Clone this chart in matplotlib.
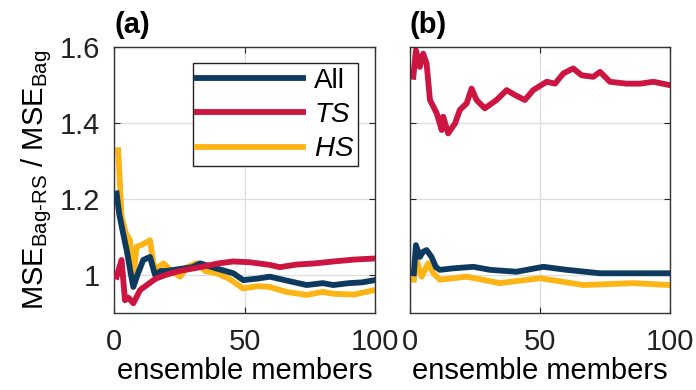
import matplotlib
matplotlib.use("Agg")
import matplotlib.pyplot as plt

plt.rcParams['font.family'] = ['Liberation Sans', 'DejaVu Sans']
plt.rcParams['mathtext.fontset'] = 'custom'
plt.rcParams['mathtext.rm'] = 'Liberation Sans'
plt.rcParams['mathtext.it'] = 'Liberation Sans:italic'

# panel (a)
a_all_x = [1, 2, 3.5, 5, 6.5, 7.4, 9, 11.2, 13.8, 15.7, 18, 20, 25, 30, 33, 40, 45.7, 49.5, 55, 59.7, 66, 73.8, 80, 84, 90, 95, 100]
a_all_y = [1.214, 1.16, 1.109, 1.06, 1.0, 0.968, 1.0, 1.039, 1.047, 1.0, 1.01, 1.01, 1.015, 1.02, 1.03, 1.015, 1.004, 0.986, 0.99, 0.995, 0.985, 0.973, 0.978, 0.973, 0.978, 0.98, 0.986]
a_ts_x = [1, 2.9, 4.2, 5.5, 7.4, 10, 13, 16, 20, 25, 33, 40, 45.7, 52, 59.7, 63.5, 70, 77, 84, 92, 100]
a_ts_y = [0.995, 1.039, 0.933, 0.94, 0.925, 0.96, 0.975, 0.99, 1.0, 1.01, 1.02, 1.03, 1.035, 1.033, 1.026, 1.02, 1.027, 1.03, 1.035, 1.04, 1.043]
a_hs_x = [1.6, 2.9, 4.5, 6.1, 7.4, 8.7, 11, 13.8, 15.7, 17, 19, 22, 25.3, 28, 31.7, 35, 39.3, 44, 49.5, 55, 59.7, 66, 73.8, 80, 84, 92, 100]
a_hs_y = [1.328, 1.153, 1.11, 1.091, 0.995, 1.074, 1.08, 1.091, 1.004, 1.02, 1.03, 1.01, 0.995, 1.02, 1.03, 1.01, 1.004, 0.99, 0.964, 0.97, 0.968, 0.955, 0.947, 0.955, 0.95, 0.948, 0.96]

# panel (b)
b_all_x = [1.5, 2.3, 3.8, 5, 6.4, 8.3, 10, 11.5, 16.7, 24.4, 30.8, 41, 51.3, 60.3, 73, 85.9, 100]
b_all_y = [1.004, 1.078, 1.047, 1.06, 1.065, 1.047, 1.02, 1.013, 1.017, 1.021, 1.013, 1.008, 1.021, 1.013, 1.004, 1.004, 1.004]
b_ts_x = [1.3, 2.3, 3.8, 5.1, 6.4, 7.7, 10.3, 12.2, 12.8, 14.7, 17.3, 19.2, 21.8, 23.7, 25.6, 28.8, 33.3, 37.2, 40.4, 44.2, 47.4,
          52.6, 55.8, 59, 62.8, 66, 70.5, 73.1, 76.9, 83.3, 88.5, 93.6, 100]
b_ts_y = [1.521, 1.591, 1.547, 1.582, 1.556, 1.46, 1.425, 1.381, 1.416, 1.372, 1.398, 1.434, 1.451, 1.49, 1.46, 1.438, 1.46, 1.486, 1.473, 1.46, 1.486,
          1.508, 1.503, 1.53, 1.543, 1.525, 1.521, 1.534, 1.508, 1.503, 1.503, 1.508, 1.499]
b_hs_x = [1.5, 2.5, 4.5, 7, 9, 11.5, 21.8, 34.6, 50, 66.7, 85.9, 100]
b_hs_y = [0.987, 1.039, 0.995, 1.03, 1.004, 0.987, 0.995, 0.978, 0.991, 0.973, 0.978, 0.973]

c_all = '#0d3a5e'
c_ts = '#cc1540'
c_hs = '#fdb515'
fs = 21
lw = 4.2

fig = plt.figure(figsize=(6.96, 3.9), dpi=100)
ax1 = fig.add_axes([0.1638, 0.198, 0.375, 0.682])
ax2 = fig.add_axes([0.589, 0.198, 0.3736, 0.682])

for ax in (ax1, ax2):
    ax.set_xlim(0, 100)
    ax.set_ylim(0.9, 1.6)
    ax.set_xticks([0, 50, 100])
    ax.set_yticks([1, 1.2, 1.4, 1.6])
    ax.grid(True, color='#dcdcdc', linewidth=0.9)
    ax.set_axisbelow(True)
    ax.tick_params(direction='in', top=True, right=True, length=4, labelsize=fs, colors='#222222')
    ax.tick_params(axis='x', pad=11)
    ax.tick_params(axis='y', pad=10)
    for s in ax.spines.values():
        s.set_color('#333333')
        s.set_linewidth(1.0)
    ax.set_xlabel('ensemble members', fontsize=fs, labelpad=1)

ax1.set_yticklabels(['1', '1.2', '1.4', '1.6'])
ax2.set_yticklabels([])

l1, = ax1.plot(a_all_x, a_all_y, color=c_all, lw=lw, zorder=3)
l3, = ax1.plot(a_hs_x, a_hs_y, color=c_hs, lw=lw, zorder=2)
l2, = ax1.plot(a_ts_x, a_ts_y, color=c_ts, lw=lw, zorder=4)
ax2.plot(b_ts_x, b_ts_y, color=c_ts, lw=lw)
ax2.plot(b_hs_x, b_hs_y, color=c_hs, lw=lw)
ax2.plot(b_all_x, b_all_y, color=c_all, lw=lw)

leg = ax1.legend([l1, l2, l3], ['All', '$\\it{TS}$', '$\\it{HS}$'], loc='upper right', fontsize=fs - 1,
                 handlelength=3.8, fancybox=False, framealpha=1, edgecolor='#222222',
                 borderaxespad=0.6, borderpad=0.15, labelspacing=0.3, handletextpad=0.4)
leg.get_frame().set_linewidth(1.0)

ax1.set_ylabel('MSE$_{\\mathrm{Bag\\text{-}RS}}$ / MSE$_{\\mathrm{Bag}}$', fontsize=fs, labelpad=4)

ax1.text(0.0, 1.03, '(a)', transform=ax1.transAxes, fontsize=fs, fontweight='bold', va='bottom', ha='left')
ax2.text(0.0, 1.03, '(b)', transform=ax2.transAxes, fontsize=fs, fontweight='bold', va='bottom', ha='left')

fig.savefig('out.png', dpi=100)
